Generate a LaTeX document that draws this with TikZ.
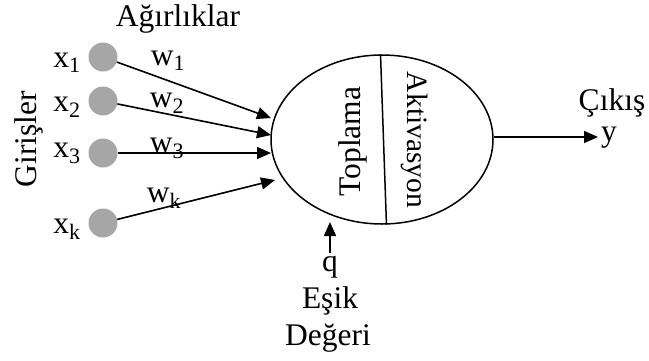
\documentclass[tikz,border=0pt]{standalone}
\usepackage{fontspec}
\setmainfont{Liberation Serif}
\usetikzlibrary{shapes.geometric,arrows.meta}
\definecolor{inputgray}{RGB}{166,166,166}
\begin{document}
\begin{tikzpicture}[x=1pt,y=-1pt,
  lbl/.style={font=\fontsize{31.5}{36}\selectfont, inner sep=0, anchor=base},
  inp/.style={circle, fill=inputgray, minimum size=29pt, inner sep=0},
  arr/.style={line width=1.6pt, -{Triangle[length=14pt,width=12pt]}},
  edge/.style={line width=1.5pt}]
\useasboundingbox (0,0) rectangle (649,360);

% neuron body
\node[draw, edge, ellipse, minimum width=222pt, minimum height=169pt, inner sep=0] (sum) at (382,139.5) {};
\draw[edge] (sum.91) -- (sum.273);
\node[lbl, rotate=90] (topl) at (360,141.5) {Toplama};
\node[lbl, rotate=-90, font=\fontsize{29.5}{34}\selectfont] (akt) at (407,140) {Aktivasyon};

% inputs
\node[inp] (i1) at (103,57) {};
\node[inp] (i2) at (103,101) {};
\node[inp] (i3) at (103,153) {};
\node[inp] (ik) at (103,223) {};
\node[lbl] (x1) at (67,67) {x\textsubscript{1}};
\node[lbl] (x2) at (67,111) {x\textsubscript{2}};
\node[lbl] (x3) at (67,157) {x\textsubscript{3}};
\node[lbl] (xk) at (67,233) {x\textsubscript{k}};
\node[lbl, rotate=90] (gir) at (36,139) {Girişler};
\node[lbl] (agr) at (178,26) {Ağırlıklar};

% weighted connections
\coordinate (t1) at (271,118);
\coordinate (t2) at (271,135);
\coordinate (t3) at (271,153);
\coordinate (tk) at (275,180);
\draw[arr] (i1) -- (t1);
\draw[arr] (i2) -- (t2);
\draw[arr] (i3.east) -- (t3);
\draw[arr] (ik) -- (tk);
\node[lbl] (w1) at (168,65) {w\textsubscript{1}};
\node[lbl] (w2) at (167,107) {w\textsubscript{2}};
\node[lbl] (w3) at (167,152) {w\textsubscript{3}};
\node[lbl] (wk) at (164,202) {w\textsubscript{k}};

% threshold
\node[lbl] (q) at (330,271) {q};
\coordinate (tq) at (330,222);
\draw[arr] (330,253) -- (tq);
\node[lbl] (esik) at (330,308) {Eşik};
\node[lbl] (deg) at (328,345) {Değeri};

% output
\coordinate (ty) at (598,137);
\draw[arr] (sum.east |- ty) -- (ty);
\node[lbl] (y) at (609,141) {y};
\node[lbl] (cikis) at (612,110) {Çıkış};
\end{tikzpicture}
\end{document}
